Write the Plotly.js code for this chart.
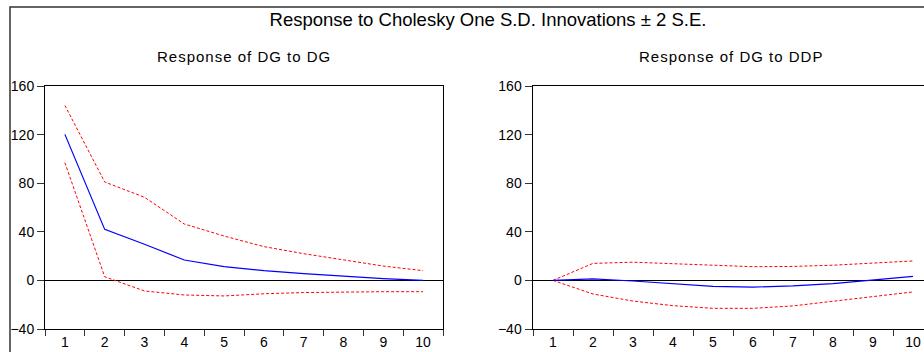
<!DOCTYPE html>
<html><head><meta charset="utf-8">
<script src="https://cdn.plot.ly/plotly-3.0.1.min.js"></script>
<style>html,body{margin:0;padding:0;overflow:hidden;background:#fff}#chart{width:960px;height:360px}
.annotation-text{letter-spacing:1px}</style>
</head><body><div id="chart"></div>
<script>
const periods = ["1","2","3","4","5","6","7","8","9","10"];
const dgToDg = [120.2, 42, 29.7, 16.8, 11.3, 8, 5.6, 3.5, 1.5, 0];
const dgToDgUpper = [144, 81, 68.4, 46.4, 36.5, 27.8, 22, 16.8, 11.8, 8];
const dgToDgLower = [96.9, 3, -8.7, -12, -12.8, -11, -10, -9.5, -9.3, -9.3];
const dgToDdp = [0, 1.2, -0.5, -3, -5, -5.5, -4.5, -2.7, 0, 3.3];
const dgToDdpUpper = [0, 14, 15, 14, 12.5, 11.3, 11.5, 12.5, 14, 16];
const dgToDdpLower = [0, -11.2, -17, -20.8, -23, -23, -21, -17, -13.5, -9.5];
const yTicks = [-40, 0, 40, 80, 120, 160];

const W = 960, H = 360;
const px = v => v / W, py = v => 1 - v / H;
const FONT = "Liberation Sans, Arial, sans-serif";

function traces(xa, ya, mid, up, lo) {
  const base = {x: periods, xaxis: xa, yaxis: ya, mode: "lines", hoverinfo: "skip", showlegend: false};
  return [
    Object.assign({}, base, {y: up, line: {color: "#ff0000", width: 1, dash: "3px,2px"}}),
    Object.assign({}, base, {y: lo, line: {color: "#ff0000", width: 1, dash: "3px,2px"}}),
    Object.assign({}, base, {y: mid, line: {color: "#0000ff", width: 1.2}})
  ];
}

const data = [].concat(
  traces("x", "y", dgToDg, dgToDgUpper, dgToDgLower),
  traces("x2", "y2", dgToDdp, dgToDdpUpper, dgToDdpLower)
);

function xax(d, anchor) {
  return {domain: d, anchor: anchor, type: "category", tickson: "boundaries",
    range: [-0.5, periods.length - 0.5],
    ticks: "outside", ticklen: 6, tickcolor: "#333", tickwidth: 1,
    showline: true, mirror: true, linecolor: "#000", linewidth: 1,
    showgrid: false, zeroline: false, tickfont: {family: FONT, size: 14, color: "#000"},
    fixedrange: true};
}
function yax(anchor, lw) {
  return {domain: [py(329), py(86)], anchor: anchor, range: [-40, 160],
    tickvals: yTicks, ticks: "outside", ticklen: 7, tickcolor: "#333", tickwidth: 1,
    showline: true, mirror: true, linecolor: "#000", linewidth: lw,
    showgrid: false, zeroline: true, zerolinecolor: "#000", zerolinewidth: 1,
    tickfont: {family: FONT, size: 14, color: "#000"}, fixedrange: true};
}

const layout = {
  width: W, height: H,
  margin: {l: 0, r: 0, t: 0, b: 0},
  paper_bgcolor: "#fff", plot_bgcolor: "#fff",
  title: {text: "Response to Cholesky One S.D. Innovations \u00b1 2 S.E.",
    font: {family: FONT, size: 18.5, color: "#000"},
    x: px(488), xref: "paper", xanchor: "center", y: py(20), yref: "paper", yanchor: "middle"},
  xaxis: xax([px(45), px(443)], "y"),
  yaxis: yax("x", 1),
  xaxis2: xax([px(533), px(933)], "y2"),
  yaxis2: yax("x2", 1.5),
  annotations: [
    {text: "Response of DG to DG", xref: "paper", yref: "paper", x: px(244), y: py(56),
     xanchor: "center", yanchor: "middle", showarrow: false, font: {family: FONT, size: 15, color: "#000"}},
    {text: "Response of DG to DDP", xref: "paper", yref: "paper", x: px(731), y: py(56),
     xanchor: "center", yanchor: "middle", showarrow: false, font: {family: FONT, size: 15, color: "#000"}}
  ],
  shapes: [
    {type: "rect", xref: "paper", yref: "paper", x0: px(10), x1: px(955), y0: -0.2, y1: py(7),
     line: {color: "#333", width: 1.5}, fillcolor: "rgba(0,0,0,0)", layer: "below"}
  ]
};

Plotly.newPlot("chart", data, layout, {displayModeBar: false, staticPlot: true});
</script></body></html>
